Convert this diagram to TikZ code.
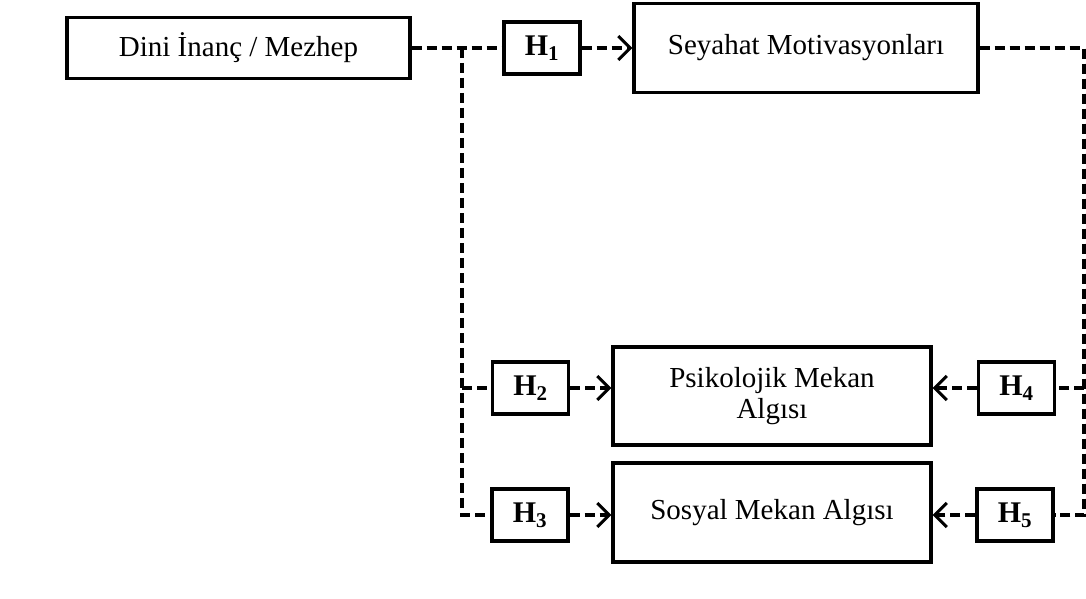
\documentclass[tikz,border=0pt]{standalone}
\usepackage{fontspec}
\setmainfont{Liberation Serif}
\usetikzlibrary{arrows.meta}
\usetikzlibrary{positioning}

\begin{document}
\begin{tikzpicture}[x=1pt, y=-1pt, ->, >={Straight Barb[length=12pt,width=24pt]},
    line width=3.1pt,
    main/.style = {draw, rectangle, align=center, inner sep=0pt, font=\fontsize{29}{31}\selectfont},
    hyp/.style = {draw, rectangle, inner sep=0pt, minimum width=76pt, minimum height=52pt, font=\fontsize{30}{31}\selectfont\bfseries},
    dashline/.style = {dash pattern=on 10pt off 5pt}]
    \useasboundingbox (0,0) rectangle (1086,599);
    % Nodes

    \node[main, minimum width=343pt, minimum height=61pt] (1) at (238.5, 48) {Dini İnanç / Mezhep};
    \node[main, minimum width=344pt, minimum height=89pt] (2) at (806, 48) {Seyahat Motivasyonları};
    \node[main, minimum width=318pt, minimum height=98pt] (3) at (772, 396) {Psikolojik Mekan\\Algısı};
    \node[main, minimum width=318pt, minimum height=99pt] (4) at (772, 512.5) {Sosyal Mekan Algısı};

    \node[hyp] (h1) at (542, 48) {H\textsubscript{1}};
    \node[hyp] (h2) at (530.5, 388) {H\textsubscript{2}};
    \node[hyp] (h3) at (530, 515) {H\textsubscript{3}};
    \node[hyp] (h4) at (1016.5, 388) {H\textsubscript{4}};
    \node[hyp] (h5) at (1015, 515) {H\textsubscript{5}};

    \coordinate (left) at (462, 48);
    \coordinate (right) at (1084, 48);

    % Edges
    \draw[dashline, -] (1) -- (h1);
    \draw[dashline] (h1) -- (2);
    \draw[dashline, -] (left) |- (h3.west);
    \draw[dashline, -] (left |- h2.west) -- (h2.west);
    \draw[dashline] (h2) -- (3.west |- h2.east);
    \draw[dashline] (h3) -- (4.west |- h3.east);

    \draw[dashline, -] (2) -- (right) |- (h5.east);
    \draw[dashline, -] (right |- h4.east) -- (h4.east);
    \draw[dashline] (h4) -- (3.east |- h4.west);
    \draw[dashline] (h5) -- (4.east |- h5.west);
\end{tikzpicture}
\end{document}
